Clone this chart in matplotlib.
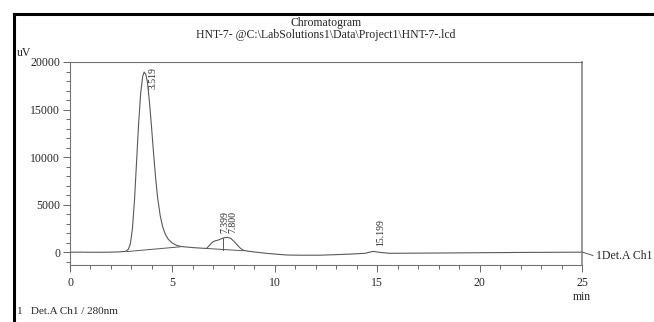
import numpy as np
import matplotlib
matplotlib.use('Agg')
import matplotlib.pyplot as plt
from matplotlib.lines import Line2D
from matplotlib.ticker import MultipleLocator

# chromatogram trace (time in min, signal in uV)
time = [0.0, 0.5, 1.0, 1.5, 2.0, 2.4, 2.7, 2.85, 2.95, 3.05, 3.15, 3.25, 3.35,
        3.45, 3.55, 3.62, 3.70, 3.78, 3.88, 3.98, 4.08, 4.18, 4.28, 4.40, 4.52,
        4.65, 4.80, 5.00, 5.20, 5.40, 5.70, 6.00, 6.35, 6.67, 6.80, 6.95, 7.10,
        7.25, 7.40, 7.55, 7.70, 7.85, 8.00, 8.15, 8.30, 8.46, 8.70, 9.0, 9.5,
        10.0, 10.6, 11.2, 12.2, 13.0, 13.8, 14.4, 14.8, 15.2, 15.6, 16.5, 18.0,
        20.0, 22.0, 24.0, 25.0]
signal = [0, 0, -10, -10, 0, 30, 80, 300, 900, 2500, 5500, 9500, 13500,
          16700, 18500, 18950, 18700, 17900, 15800, 13200, 10400, 7800, 5700, 3900, 2700,
          1900, 1350, 950, 720, 600, 540, 480, 430, 390, 700, 1050, 1200,
          1280, 1420, 1530, 1560, 1450, 1150, 800, 450, 200, 100, 20, -100,
          -200, -300, -320, -320, -260, -190, -120, 80, -40, -120, -110, -90,
          -60, -30, -10, 0]

# integration baselines and drop line
base1_t = [2.77, 5.37]
base1_v = [60, 560]
base2_t = [6.67, 8.46]
base2_v = [390, 150]
drop_t = 7.49
drop_v = [275, 1530]

# peak labels
peak_names = ['3.519', '7.399', '7.800', '15.199']
peak_x = [4.05, 7.58, 7.95, 15.19]
peak_y = [17200, 2000, 2000, 670]

plt.rcParams['font.family'] = ['Liberation Serif', 'DejaVu Serif']
txt = '0.15'
line = '0.35'

fig = plt.figure(figsize=(6.54, 3.22), dpi=100)
ax = fig.add_axes([70/654, 1-265/322, 512/654, 203/322])

ax.plot(time, signal, color=line, lw=0.8)
ax.plot(base1_t, base1_v, color=line, lw=0.7)
ax.plot(base2_t, base2_v, color=line, lw=0.7)
ax.plot([drop_t, drop_t], drop_v, color=line, lw=0.7)

for name, x, y in zip(peak_names, peak_x, peak_y):
    ax.text(x, y, name, rotation=90, ha='center', va='bottom',
            fontsize=7, color=txt)

ax.set_xlim(0, 25)
ax.set_ylim(-1350, 20000)
ax.set_xticks([0, 5, 10, 15, 20, 25])
ax.set_yticks([0, 5000, 10000, 15000, 20000])
ax.xaxis.set_minor_locator(MultipleLocator(1))
ax.yaxis.set_minor_locator(MultipleLocator(1000))
ax.tick_params(which='major', length=5, width=0.7, color='0.4',
               labelsize=8.5, labelcolor=txt)
ax.tick_params(which='minor', length=3, width=0.7, color='0.4')
ax.tick_params(axis='x', which='both', pad=4)
ax.tick_params(axis='y', which='both', pad=2)
for s in ax.spines.values():
    s.set_color('0.45')
    s.set_linewidth(0.8)
ax.spines['right'].set_color('0.6')
ax.spines['right'].set_linewidth(1.4)

# titles and labels
fig.text(326/654, 1-23/322, 'Chromatogram', ha='center', va='center',
         fontsize=8.5, color=txt)
fig.text(326/654, 1-35/322, 'HNT-7- @C:\\LabSolutions1\\Data\\Project1\\HNT-7-.lcd',
         ha='center', va='center', fontsize=8.5, color=txt)
fig.text(17/654, 1-53/322, 'uV', ha='left', va='center', fontsize=8.5, color=txt)
fig.text(582/654, 1-297/322, 'min', ha='center', va='center', fontsize=8.5, color=txt)
fig.text(17/654, 1-312/322, '1   Det.A Ch1 / 280nm', ha='left', va='center',
         fontsize=8, color=txt)

# channel tag on the right
fig.add_artist(Line2D([582/654, 593/654], [1-252/322, 1-255.5/322],
                      transform=fig.transFigure, color=line, lw=0.7))
fig.text(596/654, 1-256/322, '1Det.A Ch1', ha='left', va='center',
         fontsize=8.5, color=txt)

# black frame on left and top
fig.add_artist(Line2D([13.5/654, 1], [1-13.5/322, 1-13.5/322],
                      transform=fig.transFigure, color='k', lw=2.2))
fig.add_artist(Line2D([13.5/654, 13.5/654], [0, 1-13.5/322],
                      transform=fig.transFigure, color='k', lw=2.2))

fig.savefig('out.png', dpi=100)
